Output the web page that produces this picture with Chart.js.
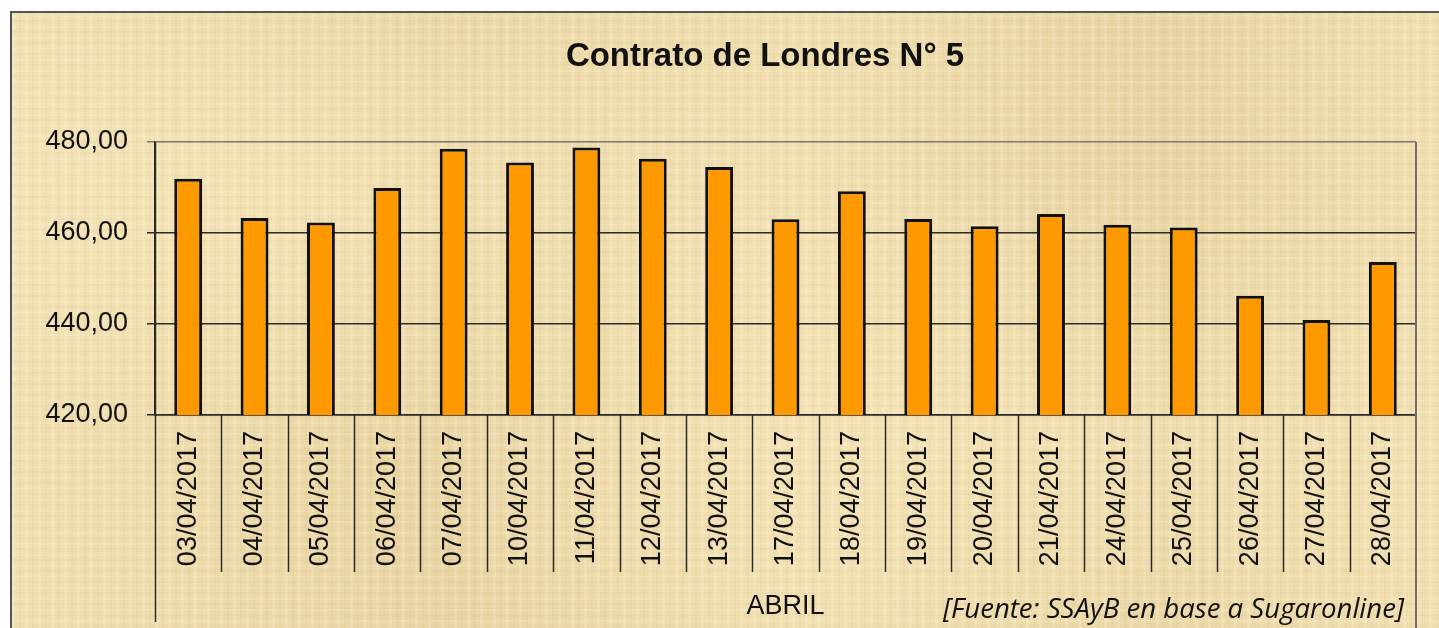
<!DOCTYPE html>
<html>
<head>
<meta charset="utf-8">
<script src="https://cdn.jsdelivr.net/npm/chart.js@4/dist/chart.umd.min.js"></script>
<style>
  html, body { margin: 0; padding: 0; background: #fff; }
  #wrap { position: relative; width: 1439px; height: 628px; overflow: hidden; }
  #papel {
    position: absolute; left: 10px; top: 11px; width: 1440px; height: 620px;
    border-left: 2px solid #555; border-top: 2px solid #555;
    background-color: #ebd8a7;
    background-image:
      repeating-linear-gradient(90deg, rgba(255,245,215,0.22) 0 3px, rgba(0,0,0,0) 3px 7px, rgba(190,160,100,0.07) 7px 9px, rgba(0,0,0,0) 9px 13px),
      repeating-linear-gradient(0deg, rgba(255,245,215,0.18) 0 2px, rgba(0,0,0,0) 2px 6px, rgba(190,160,100,0.07) 6px 8px, rgba(0,0,0,0) 8px 11px),
      radial-gradient(ellipse at 20% 30%, rgba(250,236,195,0.5), rgba(0,0,0,0) 40%),
      radial-gradient(ellipse at 70% 70%, rgba(250,236,195,0.45), rgba(0,0,0,0) 45%),
      linear-gradient(90deg, rgba(255,240,200,0.3), rgba(220,195,140,0.15) 30%, rgba(255,240,200,0.25) 55%, rgba(220,195,140,0.2) 80%, rgba(255,240,200,0.3));
  }
  #grafico { position: absolute; left: 0; top: 0; width: 1439px; height: 628px; }
  .texto { position: absolute; white-space: nowrap; color: #111; }
  #titulo { left: 765px; top: 36px; transform: translateX(-50%); font: bold 33px "Liberation Sans", Arial, sans-serif; }
  #fuente { left: 943px; top: 588px; font: italic 27.6px "Open Sans", sans-serif; }
</style>
</head>
<body>
<div id="wrap">
  <div id="papel"></div>
  <canvas id="grafico" width="1439" height="628"></canvas>
  <div class="texto" id="titulo">Contrato de Londres N° 5</div>
  <div class="texto" id="fuente">[Fuente: SSAyB en base a Sugaronline]</div>
</div>
<script>
// =============================
// DATOS
// =============================
const fechas = ["03/04/2017", "04/04/2017", "05/04/2017", "06/04/2017", "07/04/2017",
                "10/04/2017", "11/04/2017", "12/04/2017", "13/04/2017", "17/04/2017",
                "18/04/2017", "19/04/2017", "20/04/2017", "21/04/2017", "24/04/2017",
                "25/04/2017", "26/04/2017", "27/04/2017", "28/04/2017"];
const precios = [471.9, 463.3, 462.3, 469.9, 478.5,
                 475.5, 478.8, 476.3, 474.5, 463.0,
                 469.2, 463.1, 461.5, 464.2, 461.8,
                 461.2, 446.2, 440.9, 453.6];
const mes = "ABRIL";
const ejeY = { min: 420, max: 480, paso: 20 };

const fuenteArial = "'Liberation Sans', Arial, sans-serif";

// =============================
// LINEAS DE CATEGORIA + ETIQUETA DEL MES
// =============================
const separadores = {
    id: 'separadores',
    afterDraw(chart) {
        const ctx = chart.ctx;
        const area = chart.chartArea;
        const x = chart.scales.x;
        const n = fechas.length;
        ctx.save();
        ctx.strokeStyle = '#2b2b2b';
        ctx.lineWidth = 1.5;
        for (let i = 1; i < n; i++) {
            const px = Math.round((x.getPixelForValue(i - 1) + x.getPixelForValue(i)) / 2) + 0.5;
            ctx.beginPath();
            ctx.moveTo(px, area.bottom);
            ctx.lineTo(px, area.bottom + 157);
            ctx.stroke();
        }
        // borde izquierdo largo
        ctx.beginPath();
        ctx.moveTo(area.left + 0.5, area.top);
        ctx.lineTo(area.left + 0.5, area.bottom + 207);
        ctx.stroke();
        // borde derecho
        ctx.strokeStyle = '#6e6e6e';
        ctx.lineWidth = 2;
        ctx.beginPath();
        ctx.moveTo(area.right, area.top);
        ctx.lineTo(area.right, chart.height);
        ctx.stroke();
        // mes
        ctx.fillStyle = '#111';
        ctx.font = "27px " + fuenteArial;
        ctx.textAlign = 'center';
        ctx.textBaseline = 'middle';
        ctx.fillText(mes, (area.left + area.right) / 2, area.bottom + 192);
        ctx.restore();
    }
};

// =============================
// GRAFICO
// =============================
new Chart(document.getElementById('grafico'), {
    type: 'bar',
    data: {
        labels: fechas,
        datasets: [{
            data: precios,
            backgroundColor: '#ff9900',
            borderColor: '#111',
            borderWidth: 3,
            borderSkipped: 'start',
            barPercentage: 0.42,
            categoryPercentage: 1.0
        }]
    },
    options: {
        responsive: false,
        animation: false,
        layout: { padding: { left: 0, top: 142, right: 23, bottom: 0 } },
        plugins: {
            legend: { display: false },
            title: { display: false },
            tooltip: { enabled: false }
        },
        scales: {
            x: {
                grid: { display: false, drawTicks: false },
                border: { display: true, color: '#2b2b2b', width: 1.5 },
                afterFit(scale) { scale.height = 213; },
                ticks: {
                    autoSkip: false,
                    minRotation: 90,
                    maxRotation: 90,
                    padding: 16,
                    color: '#111',
                    font: { family: fuenteArial, size: 27 }
                }
            },
            y: {
                min: ejeY.min,
                max: ejeY.max,
                afterFit(scale) { scale.width = 155; },
                grid: {
                    color: (c) => c.tick && c.tick.value === ejeY.max ? '#7a7a7a' : '#2b2b2b',
                    lineWidth: 1.5,
                    tickLength: 8,
                    drawTicks: true
                },
                border: { display: true, color: '#2b2b2b', width: 1.5 },
                ticks: {
                    stepSize: ejeY.paso,
                    padding: 19,
                    color: '#111',
                    font: { family: fuenteArial, size: 27 },
                    callback: (v) => v.toFixed(2).replace('.', ',')
                }
            }
        }
    },
    plugins: [separadores]
});
</script>
</body>
</html>
